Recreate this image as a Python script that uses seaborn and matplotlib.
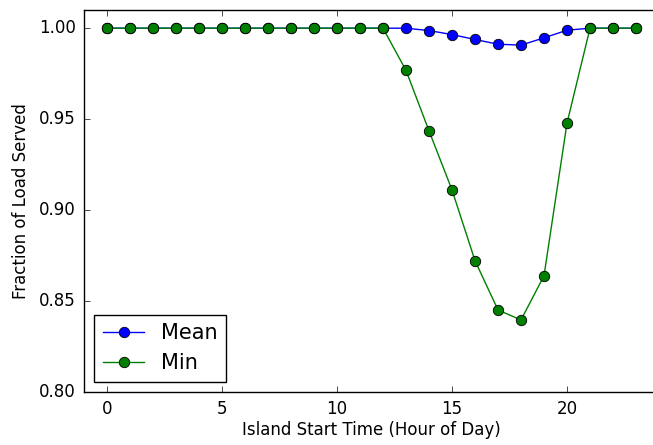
import matplotlib
matplotlib.use('Agg')
import matplotlib.pyplot as plt
import seaborn as sns
import numpy as np

# hour of day the island starts
hours = np.arange(24)
# hours 0-13 fully served, dip in the afternoon, back to 1.0 at 21
mean_served = [1.0] * 14 + [0.9987, 0.9965, 0.9938, 0.9912, 0.9907, 0.9947, 0.9989] + [1.0] * 3
min_served = [1.0] * 13 + [0.9768, 0.9436, 0.9111, 0.8722, 0.8451, 0.8396, 0.8639, 0.9478] + [1.0] * 3

plt.style.use('classic')
fig = plt.figure(figsize=(6.53, 4.45), dpi=100, facecolor='white')
ax = fig.add_axes([0.1286, 0.1191, 0.8806, 0.8584])

sns.lineplot(x=hours, y=mean_served, ax=ax, color='b', marker='o', markersize=7.5,
             markeredgecolor='k', markeredgewidth=0.6, label='Mean')
sns.lineplot(x=hours, y=min_served, ax=ax, color='g', marker='o', markersize=7.5,
             markeredgecolor='k', markeredgewidth=0.6, label='Min')

ax.set_xlim(-1, 24)
ax.set_ylim(0.80, 1.01)
ax.set_xticks([0, 5, 10, 15, 20])
ax.set_yticks([0.80, 0.85, 0.90, 0.95, 1.00])
ax.set_yticklabels(['0.80', '0.85', '0.90', '0.95', '1.00'])
ax.tick_params(axis='x', labelsize=12, pad=6)
ax.tick_params(axis='y', labelsize=12, pad=6)
ax.set_xlabel('Island Start Time (Hour of Day)', fontsize=12, labelpad=2)
ax.set_ylabel('Fraction of Load Served', fontsize=12, labelpad=6)
ax.legend(loc='lower left', numpoints=1, fontsize=15, fancybox=False)

fig.savefig('out.png', dpi=100, facecolor='white')
